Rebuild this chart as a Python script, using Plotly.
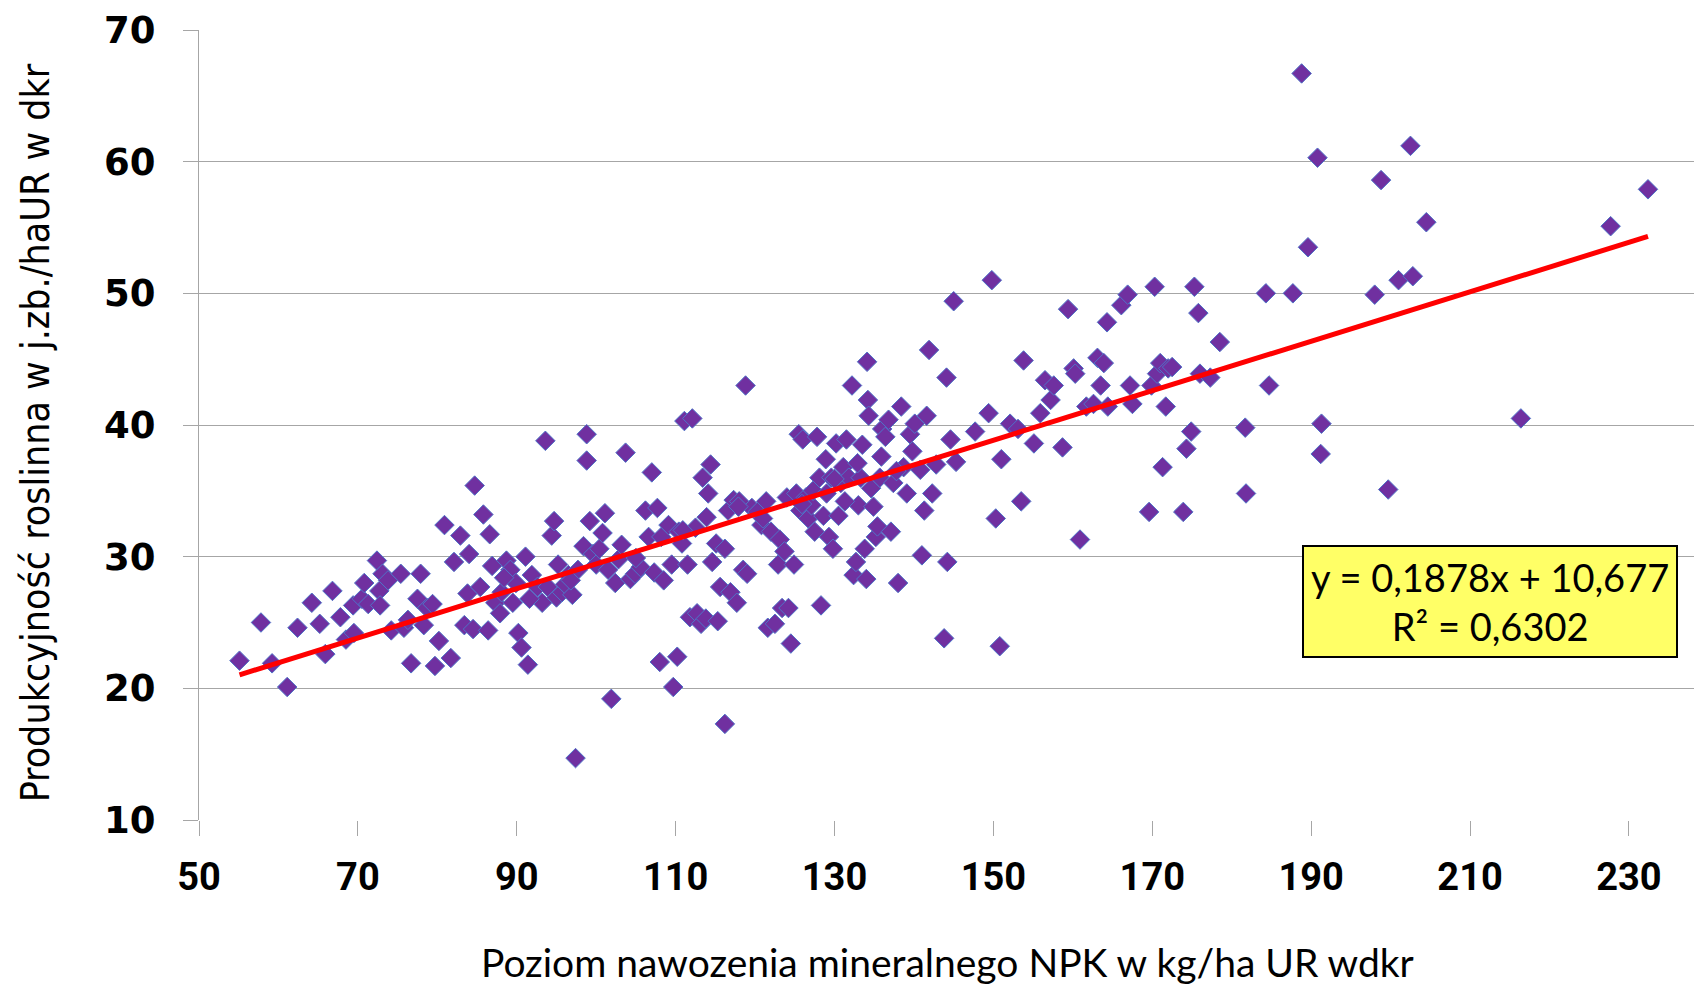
import plotly.graph_objects as go

# Poziom nawozenia NPK (kg/ha UR) i produkcyjność roślinna (j.zb./ha UR)
npk = [55.1, 57.8, 59.2, 61.1, 62.4, 64.2, 65.2, 65.9, 66.8, 67.8, 68.5, 69.4, 69.5, 70.5, 70.8, 71.3,
       72.4, 72.7, 72.8, 73.1, 73.8, 74.2, 75.4, 75.8, 76.7, 77.5, 77.9, 78.3, 78.7, 79.4, 79.7, 80.2,
       80.9, 81.7, 82.1, 82.9, 83.4, 83.8, 84.0, 84.5, 84.7, 85.4, 85.8, 86.4, 86.6, 86.9, 87.3, 87.9,
       88.1, 88.7, 89.2, 89.5, 89.9, 90.2, 90.6, 91.1, 91.4, 91.9, 92.6, 93.2, 93.6, 93.9, 94.4, 94.7,
       95.0, 95.2, 95.7, 96.1, 96.5, 97.0, 97.4, 97.7, 98.4, 98.8, 98.8, 99.2, 99.6, 100.0, 100.4, 101.1,
       101.5, 101.9, 102.4, 102.8, 103.7, 104.3, 104.9, 105.6, 106.2, 106.6, 107.0, 107.3, 107.7, 108.0,
       108.2, 108.5, 109.1, 109.5, 109.7, 110.2, 110.4, 110.8, 111.1, 111.5, 111.8, 112.1, 112.5, 112.7,
       113.2, 113.4, 113.8, 114.1, 114.4, 114.6, 115.1, 115.3, 115.6, 116.2, 116.2, 116.6, 116.9, 117.3,
       117.7, 118.0, 118.5, 118.8, 119.0, 119.6, 120.3, 120.8, 121.4, 121.6, 122.0, 122.5, 122.9, 123.1,
       123.4, 123.7, 124.0, 124.2, 124.5, 124.9, 125.2, 125.5, 125.7, 126.0, 126.4, 126.7, 127.1, 127.5,
       127.8, 128.1, 128.3, 128.6, 128.9, 129.3, 129.6, 129.8, 130.2, 130.5, 130.8, 131.1, 131.5, 131.8,
       132.2, 132.4, 132.7, 133.0, 133.3, 133.5, 133.8, 134.0, 134.1, 134.2, 134.3, 134.6, 134.9, 135.2,
       135.4, 135.7, 136.0, 136.4, 136.8, 137.1, 137.4, 138.0, 138.4, 138.7, 139.1, 139.5, 140.1, 140.8,
       141.0, 141.3, 141.6, 141.9, 142.3, 142.8, 143.8, 144.1, 144.2, 144.6, 145.0, 145.3, 147.7, 149.4,
       149.8, 150.3, 150.8, 151.0, 152.1, 153.1, 153.5, 153.8, 155.1, 155.9, 156.5, 157.2, 157.6, 158.7,
       159.4, 160.1, 160.3, 160.9, 161.7, 162.6, 163.1, 163.5, 163.9, 164.3, 164.4, 166.1, 166.9, 167.2,
       167.5, 169.6, 169.9, 170.3, 170.6, 171.0, 171.3, 171.7, 172.0, 172.5, 173.9, 174.3, 174.9, 175.3,
       175.8, 176.0, 177.3, 178.5, 181.7, 181.8, 184.3, 184.7, 187.7, 188.8, 189.6, 190.8, 191.3, 191.2,
       198.0, 198.8, 199.7, 201.0, 202.5, 202.8, 204.5, 216.4, 227.7, 232.4,
       # dodatkowe punkty w gęstym obszarze
       96.8, 100.8, 103.2, 105.0, 110.9, 113.9, 117.9, 121.0, 125.9, 127.3, 129.0, 130.0, 131.3,
       132.9, 135.9, 137.8, 139.8, 88.4, 91.6, 76.3]
prod = [22.1, 25.0, 21.9, 20.1, 24.6, 26.5, 24.9, 22.6, 27.4, 25.4, 23.7, 26.3, 24.2, 26.8, 28.0, 26.4,
        29.7, 27.4, 26.3, 28.7, 28.2, 24.4, 28.7, 24.6, 21.9, 26.8, 28.7, 24.8, 26.1, 26.4, 21.7, 23.6,
        32.4, 22.3, 29.6, 31.6, 24.8, 27.2, 30.2, 24.5, 35.4, 27.7, 33.2, 24.4, 31.7, 29.3, 26.5, 25.7,
        27.3, 29.7, 29.0, 26.5, 28.0, 24.2, 23.1, 30.0, 21.8, 28.6, 27.7, 26.5, 38.8, 27.7, 31.6, 32.7,
        26.9, 29.4, 27.3, 27.9, 28.6, 27.1, 14.7, 29.0, 30.8, 39.3, 37.3, 32.7, 30.2, 29.4, 30.6, 33.3,
        29.0, 19.2, 28.0, 29.8, 37.9, 28.3, 28.7, 29.2, 33.5, 31.5, 36.4, 28.8, 33.7, 22.0,
        31.5, 28.2, 32.4, 29.4, 20.1, 22.4, 31.9, 31.0, 40.3, 29.4, 25.4, 40.5, 32.2, 25.7,
        24.9, 36.0, 25.3, 34.8, 37.0, 29.6, 31.0, 25.1, 27.7, 17.3, 30.6, 33.5, 27.3, 34.3,
        26.5, 34.2, 29.0, 43.0, 28.7, 33.7, 33.4, 32.4, 34.2, 24.6, 31.9, 24.9, 29.4, 31.3,
        26.1, 30.4, 34.5, 26.1, 23.4, 29.4, 34.8, 39.3, 33.5, 38.9, 34.5, 32.9, 33.9, 31.9,
        39.1, 36.0, 26.3, 33.1, 37.4, 31.5, 36.0, 30.6, 38.6, 33.1, 35.6, 36.8, 38.9, 36.0,
        43.0, 28.6, 29.6, 33.9, 36.0, 38.5, 30.6, 28.3, 44.8, 41.9, 40.7, 35.2, 33.8, 31.5,
        32.3, 36.0, 39.7, 39.1, 40.4, 31.9, 35.6, 28.0, 41.4, 36.8, 34.8, 39.3, 40.1, 36.6,
        30.1, 33.5, 40.7, 45.7, 34.8, 37.0, 23.8, 43.6, 29.6, 38.9, 49.4, 37.2, 39.5, 40.9,
        51.0, 32.9, 23.2, 37.4, 40.1, 39.7, 34.2, 44.9, 38.6, 40.9, 43.4, 41.9, 43.0, 38.3,
        48.8, 44.3, 43.9, 31.3, 41.4, 41.6, 45.1, 43.0, 44.7, 47.8, 41.4, 49.1, 49.9, 43.0,
        41.6, 33.4, 43.0, 50.5, 43.9, 44.7, 36.8, 41.4, 44.3, 44.4, 33.4, 38.2, 39.5, 50.5,
        48.5, 43.9, 43.6, 46.3, 39.8, 34.8, 50.0, 43.0, 50.0, 66.7, 53.5, 60.3, 40.1, 37.8,
        49.9, 58.6, 35.1, 51.0, 61.2, 51.3, 55.4, 40.5, 55.1, 57.9,
        28.2, 31.8, 30.9, 29.9, 32.0, 33.0, 33.8, 32.9, 34.0, 35.0, 34.8, 35.9, 34.2,
        37.1, 37.6, 36.5, 38.0, 28.4, 26.8, 25.2]

# Linia trendu (z równania podanego na wykresie)
slope = 0.1878
intercept = 10.677
trend_x = [55.1, 232.4]
trend_y = [slope * v + intercept for v in trend_x]

x_ticks = list(range(50, 231, 20))
y_ticks = list(range(10, 71, 10))

fig = go.Figure()
fig.add_trace(go.Scatter(
    x=npk, y=prod, mode="markers",
    marker=dict(symbol="diamond", size=15, color="#7030A0",
                line=dict(color="#4F74C8", width=1)),
    showlegend=False, cliponaxis=False))
fig.add_trace(go.Scatter(
    x=trend_x, y=trend_y, mode="lines",
    line=dict(color="#FF0000", width=5), showlegend=False))

grid = "#A6A6A6"
fig.update_layout(
    width=1694, height=977,
    margin=dict(l=191, r=0, t=22, b=165),
    paper_bgcolor="white", plot_bgcolor="white",
    xaxis=dict(range=[50, 239.2], tickvals=x_ticks, ticktext=[str(v) for v in x_ticks],
               showgrid=False, zeroline=False, showline=False, automargin=False,
               ticks="outside", ticklen=15, tickcolor=grid, tickwidth=1.3,
               ticklabelstandoff=8,
               tickfont=dict(family="Roboto, sans-serif", size=38, color="black", weight="bold")),
    yaxis=dict(range=[10, 70], tickvals=y_ticks, showgrid=True, gridcolor=grid, gridwidth=1.3,
               zeroline=False, showline=True, linecolor=grid, linewidth=1.3, automargin=False,
               ticks="outside", ticklen=15, tickcolor=grid, tickwidth=1.3,
               ticklabelstandoff=20,
               tickfont=dict(family="DejaVu Sans, sans-serif", size=37, color="black", weight="bold")),
    annotations=[
        dict(xref="paper", yref="paper", x=0.859, y=0.277, xanchor="center", yanchor="middle",
             text="y = 0,1878x + 10,677<br>R² = 0,6302", showarrow=False, align="center",
             font=dict(family="Lato, sans-serif", size=38, color="black"),
             bgcolor="#FFFF66", bordercolor="black", borderwidth=2, borderpad=7),
        dict(xref="paper", yref="paper", x=0.498, y=-0.180, xanchor="center", yanchor="middle",
             text="Poziom nawozenia mineralnego NPK w kg/ha UR wdkr", showarrow=False,
             font=dict(family="Lato, sans-serif", size=39, color="black")),
        dict(xref="paper", yref="paper", x=-0.1088, y=0.49, xanchor="center", yanchor="middle",
             text="Produkcyjność roslinna w j.zb./haUR w dkr", showarrow=False, textangle=-90,
             font=dict(family="DejaVu Sans Condensed, DejaVu Sans, sans-serif", size=39, color="black")),
    ],
)

fig.write_html("out.html")
